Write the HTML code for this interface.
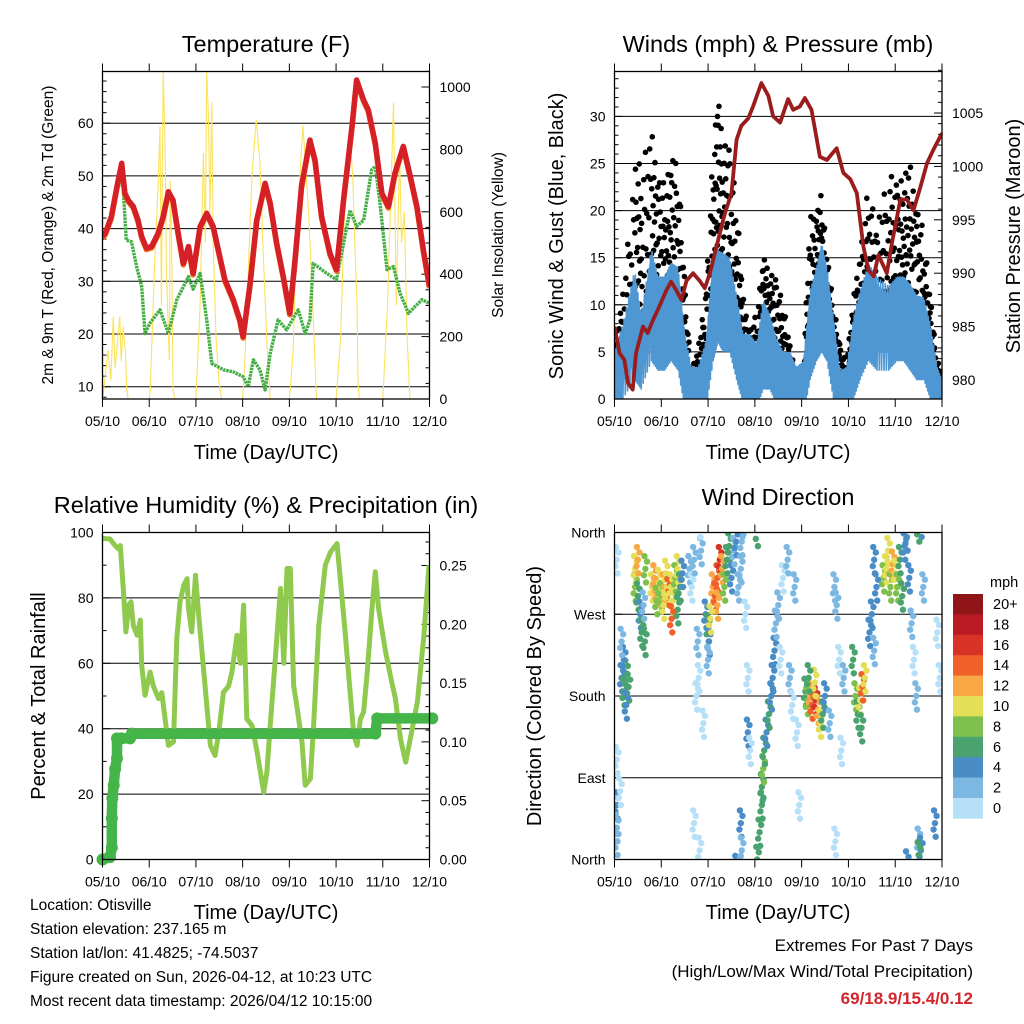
<!DOCTYPE html>
<html><head><meta charset="utf-8"><style>
html,body{margin:0;padding:0;background:#fff;}
svg{display:block;font-family:"Liberation Sans",sans-serif;}
</style></head><body>
<svg id="fig" width="1024" height="1024" viewBox="0 0 1024 1024" xmlns="http://www.w3.org/2000/svg">
<rect width="1024" height="1024" fill="#fff"/>
<g id="layer"></g>
<text x="266" y="52" font-size="23.5" text-anchor="middle">Temperature (F)</text>
<text x="778" y="52" font-size="23.5" text-anchor="middle">Winds (mph) &amp; Pressure (mb)</text>
<text x="266" y="513" font-size="23.5" text-anchor="middle">Relative Humidity (%) &amp; Precipitation (in)</text>
<text x="778" y="505" font-size="23.5" text-anchor="middle">Wind Direction</text>
<text x="266" y="459" font-size="20" text-anchor="middle">Time (Day/UTC)</text>
<text x="778" y="459" font-size="20" text-anchor="middle">Time (Day/UTC)</text>
<text x="266" y="919" font-size="20" text-anchor="middle">Time (Day/UTC)</text>
<text x="778" y="919" font-size="20" text-anchor="middle">Time (Day/UTC)</text>
<text transform="translate(53,235) rotate(-90)" font-size="15.5" text-anchor="middle">2m &amp; 9m T (Red, Orange) &amp; 2m Td (Green)</text>
<text transform="translate(503,235) rotate(-90)" font-size="15.5" text-anchor="middle">Solar Insolation (Yellow)</text>
<text transform="translate(563,236) rotate(-90)" font-size="20" text-anchor="middle">Sonic Wind &amp; Gust (Blue, Black)</text>
<text transform="translate(1020,236) rotate(-90)" font-size="20" text-anchor="middle">Station Pressure (Maroon)</text>
<text transform="translate(45,696) rotate(-90)" font-size="20" text-anchor="middle">Percent &amp; Total Rainfall</text>
<text transform="translate(541,696) rotate(-90)" font-size="20" text-anchor="middle">Direction (Colored By Speed)</text>
<g font-size="15.5">
<text x="30" y="910">Location: Otisville</text>
<text x="30" y="934">Station elevation: 237.165 m</text>
<text x="30" y="958">Station lat/lon: 41.4825; -74.5037</text>
<text x="30" y="982">Figure created on Sun, 2026-04-12, at 10:23 UTC</text>
<text x="30" y="1006">Most recent data timestamp: 2026/04/12 10:15:00</text>
</g>
<text x="973" y="951" font-size="17" text-anchor="end">Extremes For Past 7 Days</text>
<text x="973" y="977" font-size="17" text-anchor="end">(High/Low/Max Wind/Total Precipitation)</text>
<text x="973" y="1004" font-size="17" font-weight="bold" fill="#d0262c" text-anchor="end">69/18.9/15.4/0.12</text>
</svg>
<script>
// ---------- DATA ----------
const dayLabels = ["05/10","06/10","07/10","08/10","09/10","10/10","11/10","12/10"];
const tempDays = [0,0.06,0.19,0.31,0.41,0.48,0.55,0.66,0.76,0.84,0.94,1.05,1.19,1.3,1.41,1.51,1.62,1.73,1.84,1.94,2.09,2.23,2.37,2.48,2.62,2.8,2.94,3.01,3.16,3.3,3.48,3.59,3.73,3.87,4.01,4.12,4.26,4.44,4.55,4.69,4.87,5.01,5.16,5.34,5.44,5.59,5.69,5.84,5.98,6.12,6.26,6.44,6.59,6.73,6.87,7.0];
const tempRed = [38.5,39.1,42.3,48,52.4,46.7,45.4,44.2,41.6,38.5,36.3,36.6,39.1,42.3,47,45.4,39.1,33.4,36.6,31.5,40.4,42.9,40.4,35.9,30.3,26.5,22.7,19.5,29.6,41.6,48.6,44.8,37.2,30.9,23.9,34,48,56.8,53,42.3,35.3,32.2,45.4,59.4,68.2,64.4,62.5,56.2,46.7,44.2,50.5,55.6,49.9,44.2,35.9,29];
const tdDays = [0,0.16,0.37,0.44,0.51,0.62,0.73,0.84,0.91,1.01,1.23,1.41,1.59,1.84,1.94,2.09,2.23,2.34,2.59,2.8,3.01,3.12,3.23,3.37,3.48,3.59,3.76,3.94,4.19,4.34,4.44,4.51,4.8,5.01,5.23,5.3,5.44,5.59,5.76,5.84,5.94,6.09,6.23,6.37,6.55,6.69,6.84,7.0];
const tdGreen = [38.2,41,49.2,47.8,37.8,37.5,32.8,29,20.1,22,24.6,20.1,26.5,30.9,28.5,31.5,22.7,14.4,13.2,12.8,11.9,10,15.1,13.2,9.4,16.3,22.7,20.8,24.6,20.1,22.7,33.4,31.5,30.3,40.4,43.5,40.4,41.6,51.1,51.8,44.8,32.2,32.8,27.7,23.9,25.2,26.5,25.8];
const solarDays = [0,0.02,0.12,0.18,0.23,0.27,0.3,0.37,0.4,0.44,0.49,0.52,0.55,1.0,1.02,1.12,1.19,1.23,1.26,1.3,1.34,1.37,1.43,1.45,1.48,1.51,1.55,2.0,2.09,2.16,2.2,2.23,2.27,2.3,2.34,2.37,2.43,2.49,2.55,3.0,3.05,3.13,3.2,3.29,3.37,3.44,3.52,3.59,4.0,4.08,4.16,4.29,4.41,4.5,4.58,5.0,5.1,5.16,5.2,5.3,5.36,5.4,5.45,5.47,5.5,6.0,6.1,6.16,6.23,6.29,6.36,6.4,6.46,6.52,6.58,7.0];
const solarVals = [0,20,157,60,264,100,147,264,120,232,150,29,0,0,20,445,680,873,300,1050,820,400,125,700,500,30,0,0,300,788,500,1050,900,600,950,500,200,60,0,0,130,445,720,894,760,468,180,0,0,150,551,878,606,300,0,0,200,500,700,840,700,500,300,50,0,0,300,600,949,300,800,500,600,200,0,0];
const tempTicks = [10,20,30,40,50,60];
const solarTicks = [0,200,400,600,800,1000];
const pressDays = [0,0.11,0.21,0.29,0.39,0.46,0.61,0.71,0.82,0.93,1.11,1.21,1.32,1.43,1.54,1.68,1.82,1.93,2.04,2.18,2.36,2.5,2.61,2.71,2.86,2.96,3.14,3.29,3.39,3.54,3.71,3.82,3.96,4.07,4.21,4.39,4.54,4.75,4.89,5.04,5.18,5.32,5.43,5.54,5.64,5.82,5.93,6.11,6.25,6.39,6.54,6.68,6.82,7.0];
const pressVals = [985,982.5,981.9,979.7,979.1,982.5,985,984.4,985.6,986.6,988.4,989.2,988.4,987.5,989.3,990,989.3,988.6,990,992.5,995.6,997.5,1002.5,1003.8,1004.5,1005.6,1007.8,1006.6,1004.7,1004.1,1006.3,1005.3,1005.6,1006.4,1005.3,1000.9,1000.6,1001.7,999.4,998.8,997.5,992.5,990.3,989.7,991.7,990,992.8,996.9,996.9,995.9,998.1,1000.3,1001.6,1003.1];
const windDays = [0,0.18,0.43,0.57,0.79,0.93,1.07,1.21,1.36,1.5,1.64,1.79,1.96,2.11,2.21,2.32,2.46,2.61,2.75,2.89,3.04,3.18,3.32,3.46,3.61,3.75,3.89,4.04,4.18,4.32,4.43,4.54,4.68,4.82,4.96,5.11,5.25,5.43,5.61,5.86,6.04,6.18,6.32,6.46,6.61,6.75,6.89,7.0];
const windHi = [4.1,7,12.7,8,15,12,12,13.5,13,6,2.4,2.4,5.2,14,14.8,14.5,14,10,5.9,5.9,4.9,9.5,8,5.5,4,4,2.4,3,10.5,13,15.5,13,7.7,2,2.4,7.7,10.5,13.4,12,11,12,12,11.2,10,9.8,7,2.5,1];
const windLo = [0.5,2,4,3,6,5,5,6,5,1,0,0,1,6,8,7,7,4,1.5,1.5,1,3,3,1.5,0.5,0.5,0,0,4,6,7,6,2,0,0,2,4,6,5,5,6,6,5,4,4,2,0,0];
const gustHi = [5.9,11.6,26.8,25.8,29.5,25.4,23.6,25.8,27.9,13,3,5.6,13,27.6,32.9,30,27.2,21.9,11.2,7.7,9.5,15.5,14.8,13,10.5,5.9,2.7,4,20,21.2,22.6,15.5,11.2,5.9,4,11.2,16.6,23.6,18.3,26.8,23.3,24.5,25.8,21.9,18.3,11.2,4.9,2.5];
const windTicks = [0,5,10,15,20,25,30];
const pressTicks = [980,985,990,995,1000,1005];
const rhDays = [0,0.16,0.27,0.34,0.38,0.45,0.5,0.56,0.61,0.66,0.74,0.81,0.84,0.91,1.02,1.09,1.2,1.27,1.34,1.41,1.52,1.59,1.66,1.74,1.81,1.84,1.91,1.99,2.06,2.13,2.24,2.31,2.41,2.49,2.59,2.7,2.77,2.88,2.95,3.02,3.09,3.2,3.31,3.38,3.45,3.52,3.59,3.7,3.81,3.88,3.95,4.02,4.09,4.16,4.27,4.34,4.45,4.52,4.63,4.77,4.88,5.02,5.09,5.2,5.27,5.38,5.45,5.52,5.59,5.66,5.77,5.84,5.91,5.99,6.06,6.16,6.27,6.38,6.49,6.59,6.74,6.88,6.99];
const rhVals = [98.2,98,96,95,96,81.8,69.6,77.8,78.8,71.6,68.6,73.2,59.4,50.2,57.3,53,49.2,51,43,34.9,36,67.6,78.8,83.9,85.9,76.7,69.6,86.9,74.7,63.5,46.1,34.9,31.8,39,51.2,53,57.3,68.6,60,77.8,43,41,32.9,26.7,20.6,26.7,41,61.4,82.9,60,89,89,53.3,47,35.9,22.7,24.7,41,71.6,90,94,96.6,85.9,68.6,56.3,38,34.9,43,45.1,56,76.7,88,76.7,69.6,63.5,56.3,49.2,36.9,29.8,36.9,48.2,68.6,90];
const rainDays = [0,0.16,0.2,0.2,0.21,0.24,0.27,0.31,0.31,0.41,0.59,0.63,5.84,5.88,7.06];
const rainVals = [0,0.002,0.01,0.035,0.052,0.063,0.077,0.086,0.103,0.103,0.103,0.107,0.107,0.12,0.12];
const rhTicks = [0,20,40,60,80,100];
const rainTicks = ["0.00","0.05","0.10","0.15","0.20","0.25"];
const dirDays = [0.05,0.05,0.05,0.12,0.05,0.05,0.15,0.2,0.25,0.2,0.3,0.15,0.25,0.44,0.44,0.5,0.55,0.58,0.65,0.62,0.5,0.66,
0.8,0.85,0.9,0.95,1.0,1.05,1.1,1.15,1.2,1.25,1.3,1.35,1.4,1.35,1.22,1.05,0.9,1.45,1.6,1.65,1.7,1.75,1.8,1.78,1.85,1.9,1.7,1.82,
1.95,2.0,2.02,2.0,2.1,2.15,2.2,2.25,2.3,2.2,2.05,2.35,2.4,2.45,2.5,2.55,2.6,2.65,2.7,2.8,2.85,2.72,2.7,2.72,2.85,2.9,
3.05,3.1,3.15,3.15,3.18,3.2,3.25,3.3,3.35,3.38,3.42,3.45,3.5,3.55,3.6,3.7,3.75,3.8,3.85,3.9,3.95,
4.08,4.12,4.18,4.22,4.3,4.35,4.4,4.45,4.5,4.28,4.15,4.6,4.7,4.75,4.8,4.72,4.9,4.85,
5.1,5.15,5.2,5.25,5.3,5.35,5.28,5.45,5.5,5.55,5.6,5.55,
5.75,5.8,5.85,5.9,5.95,6.0,6.05,6.1,6.15,6.2,6.25,6.3,6.35,6.4,6.45,6.5,6.55,6.6,6.5,6.9,6.95,6.85];
const dirVals = [20,60,35,75,110,330,200,185,205,220,190,240,170,300,320,290,270,250,240,280,330,320,
300,310,295,305,290,300,315,295,300,285,310,320,300,275,265,280,285,315,320,300,330,180,200,240,340,150,40,10,
270,255,240,220,300,290,310,330,320,280,265,300,330,345,310,340,350,300,320,270,200,350,40,10,140,120,
0,30,60,80,100,120,140,160,180,200,230,260,280,220,310,330,200,170,300,140,60,
185,175,180,170,175,165,150,160,180,195,200,150,300,280,220,20,200,120,
220,180,160,175,190,200,145,250,270,230,300,330,
310,320,340,300,325,315,300,330,290,345,355,310,260,220,180,20,10,300,5,250,200,40];
const dirSpeed = [3,4,2,1,1,1,5,6,7,4,6,3,4,9,10,7,4,6,7,3,12,8,
11,13,12,10,9,12,10,14,11,10,8,10,6,7,14,11,8,4,2,1,2,1,1,2,3,1,0,0,
5,6,4,3,12,14,15,16,13,12,11,9,7,6,5,3,4,2,3,1,1,2,4,3,4,1,
6,7,6,7,8,6,5,7,4,5,4,3,2,1,1,2,2,1,2,1,0,
7,9,12,14,16,12,10,7,5,10,6,3,2,2,1,1,2,1,
7,8,7,11,14,10,7,4,4,3,5,4,
9,11,10,8,12,10,9,7,6,5,4,4,2,1,2,3,4,2,6,1,1,4];
const dirTicks = ["North","East","South","West","North"];
const speedLabels = ["0","2","4","6","8","10","12","14","16","18","20+"];
const speedColors = ["#b5e0f7","#7db8e3","#4a8dc6","#4aa36f","#7dc04d","#e5df58","#f7a845","#ef6129","#d93328","#b81c22","#8f1518"];

// ---------- DRAW ----------
const NS = "http://www.w3.org/2000/svg";
const layer = document.getElementById("layer");
function mk(tag, attrs, parent) {
  const e = document.createElementNS(NS, tag);
  for (const k in attrs) e.setAttribute(k, attrs[k]);
  (parent || layer).appendChild(e);
  return e;
}
function pts(xs, ys, fx, fy) { return xs.map((d, i) => fx(d).toFixed(1) + "," + fy(ys[i]).toFixed(1)).join(" "); }

const panels = {
  temp: {x0: 102.5, x1: 429.5, y0: 71.5, y1: 399},
  wind: {x0: 614.5, x1: 942, y0: 71.5, y1: 399},
  rh:   {x0: 102.5, x1: 429.5, y0: 532.5, y1: 859.5},
  dir:  {x0: 614.5, x1: 942, y0: 532.5, y1: 859.5}
};
function xs(p) { return d => p.x0 + d * (p.x1 - p.x0) / 7; }

function clipFor(id, p) {
  const cp = mk("clipPath", {id: id});
  
  
  const r = mk("rect", {x: p.x0, y: p.y0, width: p.x1 - p.x0, height: p.y1 - p.y0}, cp);
  
  
}
function frame(name, p) {
  const r = mk("rect", {x: p.x0, y: p.y0, width: p.x1 - p.x0, height: p.y1 - p.y0, fill: "none", stroke: "#000", "stroke-width": 1.3});
  
  
  const fx = xs(p);
  dayLabels.forEach((lab, i) => {
    const x = fx(i);
    const t1 = mk("line", {x1: x, x2: x, y1: p.y1, y2: p.y1 + 8, stroke: "#000", "stroke-width": 1});
    
    
    const t2 = mk("line", {x1: x, x2: x, y1: p.y0, y2: p.y0 - 8, stroke: "#000", "stroke-width": 1});
    
    
    const tx = mk("text", {x: x, y: p.y1 + 27, "font-size": 14, "text-anchor": "middle"});
    tx.textContent = lab;
    
    
  });
}
function hgrid(name, p, y) {
  const l = mk("line", {x1: p.x0, x2: p.x1, y1: y, y2: y, stroke: "#000", "stroke-width": 1});
  
  
}
function yTick(name, p, y, side, label, major) {
  const x = side === "l" ? p.x0 : p.x1;
  const len = major ? 8 : 4;
  const l = mk("line", {x1: x, x2: side === "l" ? x + len : x - len, y1: y, y2: y, stroke: "#000", "stroke-width": 1});
  
  
  if (label !== null) {
    const t = mk("text", {x: side === "l" ? p.x0 - 9 : p.x1 + 10, y: y + 5, "font-size": 14, "text-anchor": side === "l" ? "end" : "start"});
    t.textContent = label;
    
    
  }
}

// ===== Temperature panel =====
(function () {
  const p = panels.temp, fx = xs(p);
  const fy = v => 386.7 - (v - 10) * 5.27;
  const fs = w => Math.max(p.y0, p.y1 - w * 0.312);
  clipFor("clip-temp", p);
  tempTicks.forEach(v => { hgrid("temp", p, fy(v)); yTick("temp", p, fy(v), "l", String(v), true); });
  for (let v = 8; v <= 70; v += 2) if (v % 10) yTick("temp-minor", p, fy(v), "l", null, false);
  solarTicks.forEach(v => yTick("solar", p, fs(v), "r", String(v), true));
  for (let v = 50; v <= 1050; v += 50) if (v % 200) yTick("solar-minor", p, p.y1 - v * 0.312, "r", null, false);
  const g = mk("g", {"clip-path": "url(#clip-temp)"});
  
  
  const s = mk("polyline", {points: pts(solarDays, solarVals, fx, fs), fill: "none", stroke: "#fde25a", "stroke-width": 1.1}, g);
  
  
  const td = mk("polyline", {points: pts(tdDays, tdGreen, fx, fy), fill: "none", stroke: "#44ad44", "stroke-width": 3.4, "stroke-dasharray": "2.5 0.8", "stroke-linejoin": "round"}, g);
  
  
  const o = mk("polyline", {points: pts(tempDays, tempRed, fx, v => fy(v) + 1.5), fill: "none", stroke: "#f07a24", "stroke-width": 5.5, "stroke-linejoin": "round"}, g);
  
  
  const r = mk("polyline", {points: pts(tempDays, tempRed, fx, fy), fill: "none", stroke: "#d42026", "stroke-width": 5.5, "stroke-linejoin": "round"}, g);
  
  
  frame("temp", p);
})();

// ===== Wind panel =====
(function () {
  const p = panels.wind, fx = xs(p);
  const fy = v => p.y1 - v * 9.42;
  const fp = v => 380 - (v - 980) * 10.68;
  clipFor("clip-wind", p);
  windTicks.forEach(v => { hgrid("wind", p, fy(v)); yTick("wind", p, fy(v), "l", String(v), true); });
  for (let v = 1; v <= 34; v++) if (v % 5) yTick("wind-minor", p, fy(v), "l", null, false);
  pressTicks.forEach(v => yTick("pressure", p, fp(v), "r", String(v), true));
  for (let v = 979; v <= 1009; v++) if (v % 5) yTick("pressure-minor", p, fp(v), "r", null, false);
  const g = mk("g", {"clip-path": "url(#clip-wind)"});
  
  
  const pattern = [0.05, 0.55, 0.25, 0.85, 0.4, 0.7, 0.15, 0.95, 0.5, 0.3, 0.65, 0.1, 0.45, 0.8, 0.2, 0.6, 0.35, 0.9, 0.12, 0.75, 0.28, 0.52, 0.68, 0.38];
  const gg = mk("g", {fill: "#000"}, g);
  
  
  const N = 24;
  for (let i = 0; i < windDays.length - 1; i++) {
    for (let k = 0; k < N; k++) {
      const t = k / N;
      const d = windDays[i] + (windDays[i + 1] - windDays[i]) * t;
      const hi = gustHi[i] + (gustHi[i + 1] - gustHi[i]) * t;
      const base = windLo[i] + (windLo[i + 1] - windLo[i]) * t;
      const v = base + (hi - base) * pattern[(k + i * 7) % 24];
      const c = mk("circle", {cx: fx(d), cy: fy(v), r: 2.8}, gg);
      
      
    }
  }
  const poly = windDays.map((d, i) => fx(d).toFixed(1) + "," + fy(windHi[i]).toFixed(1)).concat(
    windDays.slice().reverse().map((d, j) => { const i = windDays.length - 1 - j; return fx(d).toFixed(1) + "," + fy(windLo[i]).toFixed(1); })).join(" ");
  const band = mk("polygon", {points: poly, fill: "#4f97d3", stroke: "#4f97d3", "stroke-width": 2, "stroke-linejoin": "round"}, g);
  
  
  // zigzag texture
  const zz = [];
  for (let i = 0; i < windDays.length - 1; i++) {
    for (let k = 0; k < 10; k++) {
      const t = k / 10;
      const d = windDays[i] + (windDays[i + 1] - windDays[i]) * t;
      const hi = windHi[i] + (windHi[i + 1] - windHi[i]) * t;
      const lo = windLo[i] + (windLo[i + 1] - windLo[i]) * t;
      const v = k % 2 ? hi + 1 : Math.max(0, lo - 2);
      zz.push(fx(d).toFixed(1) + "," + fy(v).toFixed(1));
    }
  }
  const zl = mk("polyline", {points: zz.join(" "), fill: "none", stroke: "#4f97d3", "stroke-width": 1.6}, g);
  
  
  const pr = mk("polyline", {points: pts(pressDays, pressVals, fx, fp), fill: "none", stroke: "#9b1c1c", "stroke-width": 3.8, "stroke-linejoin": "round"}, g);
  
  
  frame("wind", p);
})();

// ===== RH panel =====
(function () {
  const p = panels.rh, fx = xs(p);
  const fy = v => p.y1 - v * 3.27;
  const fr = v => p.y1 - v * 1176;
  clipFor("clip-rh", p);
  rhTicks.forEach(v => { if (v > 0 && v < 100) hgrid("rh", p, fy(v)); yTick("rh", p, fy(v), "l", String(v), true); });
  for (let v = 10; v < 100; v += 20) yTick("rh-minor", p, fy(v), "l", null, false);
  rainTicks.forEach(v => yTick("rain", p, fr(parseFloat(v)), "r", v, true));
  for (let v = 0.01; v < 0.28; v += 0.01) if (Math.round(v * 100) % 5) yTick("rain-minor", p, fr(v), "r", null, false);
  const g = mk("g", {"clip-path": "url(#clip-rh)"});
  
  
  const rh = mk("polyline", {points: pts(rhDays, rhVals, fx, fy), fill: "none", stroke: "#8fca4f", "stroke-width": 5, "stroke-linejoin": "round"}, g);
  
  
  const rl = mk("polyline", {points: pts(rainDays, rainVals, fx, fr), fill: "none", stroke: "#46b549", "stroke-width": 10.5, "stroke-linejoin": "round", "stroke-linecap": "round"});
  
  
  rainDays.forEach((d, i) => {
    const c = mk("circle", {cx: fx(d), cy: fr(rainVals[i]), r: 6, fill: "#46b549"});
    
    
  });
  frame("rh", p);
})();

// ===== Direction panel =====
(function () {
  const p = panels.dir, fx = xs(p);
  const fy = v => p.y1 - v / 360 * (p.y1 - p.y0);
  clipFor("clip-dir", p);
  dirTicks.forEach((lab, i) => { const y = fy(i * 90); if (i > 0 && i < 4) hgrid("dir", p, y); yTick("dir", p, y, "l", lab, true); });
  const g = mk("g", {"clip-path": "url(#clip-dir)"});
  
  
  const offs = [[0, 0], [0.035, 8], [-0.03, -7], [0.015, -15], [-0.02, 14]];
  dirDays.forEach((d, i) => {
    const col = speedColors[Math.min(10, Math.floor(dirSpeed[i] / 2))];
    offs.forEach(o => {
      const c = mk("circle", {cx: fx(d + o[0]), cy: fy((dirVals[i] + o[1] + 360) % 360), r: 3.2, fill: col}, g);
      
      
    });
  });
  frame("dir", p);
  const cbTop = 594, boxH = 20.4;
  const lg = mk("text", {x: 990, y: 587, "font-size": 14.5});
  lg.textContent = "mph";
  
  
  speedColors.slice().reverse().forEach((c, j) => {
    const r = mk("rect", {x: 953, y: cbTop + j * boxH, width: 30, height: boxH + 0.3, fill: c});
    
    
    const t = mk("text", {x: 993, y: cbTop + j * boxH + 15, "font-size": 14.5});
    t.textContent = speedLabels[10 - j];
    
    
  });
})();
</script>
</body></html>
